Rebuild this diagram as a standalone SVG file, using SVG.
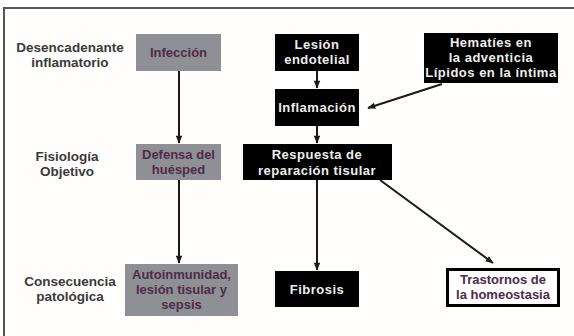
<svg xmlns="http://www.w3.org/2000/svg" width="574" height="336" viewBox="0 0 574 336">
<defs>
<marker id="ah" viewBox="0 0 10 10" refX="9" refY="5" markerWidth="10" markerHeight="8" markerUnits="userSpaceOnUse" orient="auto"><path d="M0,1 L10,5 L0,9 Z" fill="#1a1a1a"/></marker>
<style>
.lbl{font-family:"Liberation Sans",Arial,sans-serif;font-size:13.5px;font-weight:bold;fill:#3a3a3a;text-anchor:middle}
.gray{fill:#8f8f96}
.gt{font-family:"Liberation Sans",Arial,sans-serif;font-size:13px;font-weight:bold;fill:#4e2c48;text-anchor:middle}
.blk{fill:#000}
.wt{font-family:"Liberation Sans",Arial,sans-serif;font-size:13px;font-weight:bold;letter-spacing:0.5px;fill:#eeeeee;text-anchor:middle}
.con{stroke:#1a1a1a;stroke-width:2;fill:none;marker-end:url(#ah)}
</style>
</defs>
<rect width="574" height="336" fill="#fff"/>
<rect x="4" y="8" width="600" height="360" fill="#fffefc" stroke="#555" stroke-width="2"/>
<g id="label-desencadenante"><text class="lbl" x="70" y="52">Desencadenante</text><text class="lbl" x="70" y="67">inflamatorio</text></g>
<g id="label-fisiologia"><text class="lbl" x="67" y="161">Fisiología</text><text class="lbl" x="67" y="176">Objetivo</text></g>
<g id="label-consecuencia"><text class="lbl" x="70" y="286">Consecuencia</text><text class="lbl" x="70" y="301">patológica</text></g>
<g id="infeccion"><rect class="gray" x="136" y="34" width="85" height="37"/><text class="gt" x="178.5" y="57">Infección</text></g>
<g id="defensa"><rect class="gray" x="136" y="144" width="85" height="36"/><text class="gt" x="178.5" y="159">Defensa del</text><text class="gt" x="178.5" y="174">huésped</text></g>
<g id="autoinmunidad"><rect class="gray" x="125" y="264" width="113" height="52"/><text class="gt" x="181.5" y="279">Autoinmunidad,</text><text class="gt" x="181.5" y="294">lesión tisular y</text><text class="gt" x="181.5" y="309">sepsis</text></g>
<g id="lesion"><rect class="blk" x="275" y="34" width="84" height="37"/><text class="wt" x="317" y="49">Lesión</text><text class="wt" x="317" y="64">endotelial</text></g>
<g id="inflamacion"><rect class="blk" x="275" y="89" width="84" height="37"/><text class="wt" x="317" y="112">Inflamación</text></g>
<g id="respuesta"><rect class="blk" x="243" y="144" width="149" height="36"/><text class="wt" x="317" y="159">Respuesta de</text><text class="wt" x="317" y="175">reparación tisular</text></g>
<g id="hematies"><rect class="blk" x="424" y="33" width="134" height="50"/><text class="wt" x="491" y="47">Hematíes en</text><text class="wt" x="491" y="62">la adventicia</text><text class="wt" x="491" y="77">Lípidos en la íntima</text></g>
<g id="fibrosis"><rect class="blk" x="275" y="271" width="84" height="36"/><text class="wt" x="317" y="294">Fibrosis</text></g>
<g id="trastornos"><rect x="447.5" y="269.5" width="111" height="36" fill="#fff" stroke="#000" stroke-width="3"/><text class="gt" x="503" y="284">Trastornos de</text><text class="gt" x="503" y="299">la homeostasia</text></g>
<g id="connectors">
<line class="con" x1="179" y1="71" x2="179" y2="143"/>
<line class="con" x1="179" y1="180" x2="179" y2="263"/>
<line class="con" x1="317" y1="71" x2="317" y2="88"/>
<line class="con" x1="317" y1="126" x2="317" y2="143"/>
<line class="con" x1="317" y1="180" x2="317" y2="270"/>
<line class="con" x1="442" y1="84" x2="368" y2="108"/>
<line class="con" x1="380" y1="180" x2="493" y2="263"/>
</g>
</svg>
